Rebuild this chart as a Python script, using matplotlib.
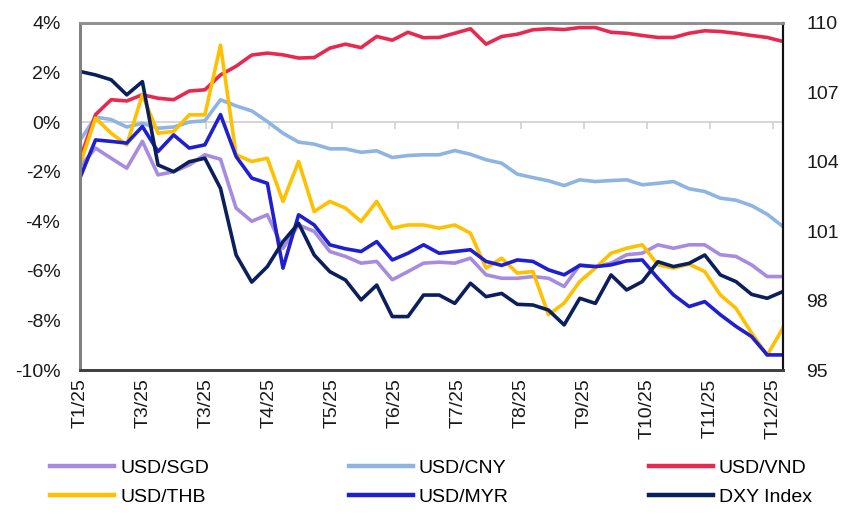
import matplotlib.pyplot as plt
import numpy as np

plt.rcParams['font.family'] = ['Liberation Sans', 'DejaVu Sans']

# nhãn tháng (giữ nguyên như hình gốc)
months = ["T1/25", "T3/25", "T3/25", "T4/25", "T5/25", "T6/25",
          "T7/25", "T8/25", "T9/25", "T10/25", "T11/25", "T12/25"]

# % thay đổi so với đầu năm, lấy mẫu khoảng 1 tuần / điểm
usd_sgd = [-1.8, -1.05, -1.46, -1.86, -0.78, -2.13, -2.0, -1.73, -1.32, -1.5, -3.47, -4.0,
           -3.74, -5.09, -4.15, -4.41, -5.22, -5.42, -5.69, -5.62, -6.36, -6.03, -5.69,
           -5.65, -5.69, -5.49, -6.16, -6.3, -6.3, -6.23, -6.3, -6.63, -5.76, -5.83,
           -5.69, -5.35, -5.29, -4.95, -5.09, -4.95, -4.95, -5.35, -5.42, -5.76, -6.23, -6.23]
usd_cny = [-0.75, 0.2, 0.1, -0.2, -0.05, -0.25, -0.2, 0.0, 0.05, 0.9, 0.65, 0.45,
           0.02, -0.45, -0.81, -0.89, -1.08, -1.08, -1.22, -1.16, -1.43, -1.35, -1.32,
           -1.32, -1.15, -1.3, -1.52, -1.66, -2.1, -2.24, -2.37, -2.56, -2.33, -2.4,
           -2.36, -2.33, -2.53, -2.47, -2.4, -2.69, -2.8, -3.07, -3.15, -3.37, -3.72, -4.21]
usd_vnd = [-1.5, 0.3, 0.9, 0.85, 1.1, 0.96, 0.9, 1.25, 1.3, 1.9, 2.25, 2.7,
           2.78, 2.71, 2.58, 2.6, 2.98, 3.14, 3.0, 3.45, 3.3, 3.62, 3.4,
           3.41, 3.58, 3.76, 3.14, 3.45, 3.54, 3.72, 3.76, 3.73, 3.81, 3.81,
           3.62, 3.58, 3.49, 3.41, 3.41, 3.58, 3.68, 3.65, 3.58, 3.49, 3.41, 3.25]
usd_thb = [-1.73, 0.16, -0.45, -0.92, 1.1, -0.45, -0.38, 0.29, 0.29, 3.1, -1.32, -1.59,
           -1.46, -3.2, -1.59, -3.61, -3.2, -3.47, -4.01, -3.2, -4.28, -4.15, -4.15,
           -4.28, -4.15, -4.48, -5.89, -5.49, -6.09, -6.03, -7.77, -7.3, -6.43, -5.89,
           -5.29, -5.09, -4.95, -5.76, -5.89, -5.73, -6.03, -6.97, -7.51, -8.51, -9.4, -8.31]
usd_myr = [-2.26, -0.72, -0.78, -0.85, -0.18, -1.19, -0.52, -1.05, -0.92, 0.3, -1.39, -2.26,
           -2.47, -5.89, -3.74, -4.15, -4.95, -5.11, -5.22, -4.82, -5.56, -5.29, -4.95,
           -5.29, -5.22, -5.15, -5.62, -5.78, -5.56, -5.62, -5.96, -6.16, -5.78, -5.83,
           -5.76, -5.6, -5.56, -6.3, -6.97, -7.44, -7.24, -7.77, -8.24, -8.65, -9.39, -9.39]
# DXY (trục phải)
dxy = [107.9, 107.75, 107.54, 106.89, 107.46, 103.86, 103.57, 104.0, 104.15, 102.85, 99.97, 98.8,
       99.47, 100.55, 101.34, 99.97, 99.25, 98.89, 98.03, 98.67, 97.31, 97.31, 98.24,
       98.24, 97.88, 98.75, 98.17, 98.31, 97.84, 97.81, 97.59, 96.95, 98.1, 97.88,
       99.11, 98.46, 98.82, 99.68, 99.47, 99.61, 99.97, 99.11, 98.82, 98.27, 98.1, 98.39]

x = np.arange(len(dxy))
pts_per_month = (len(dxy) - 1) / 11.16
tick_pos = np.arange(len(months)) * pts_per_month

fig = plt.figure(figsize=(8.5, 5.19), dpi=100)
ax = fig.add_axes([0.094, 0.287, 0.827, 0.669])
ax2 = ax.twinx()

lw = 2.6
ax.plot(x, usd_cny, color='#8DB4E2', lw=lw, label='USD/CNY')
ax.plot(x, usd_vnd, color='#E8294F', lw=lw, label='USD/VND')
ax.plot(x, usd_sgd, color='#A78BE0', lw=lw, label='USD/SGD')
ax.plot(x, usd_thb, color='#FFC000', lw=lw, label='USD/THB')
ax.plot(x, usd_myr, color='#1F1FD0', lw=lw, label='USD/MYR')
ax2.plot(x, dxy, color='#0A1F5C', lw=lw, label='DXY Index')

# trục hoành ở mức 0%
ax.axhline(0, color='#D0D0D0', lw=1.2, zorder=0)
ax.plot(tick_pos, np.zeros(len(tick_pos)), ls='none', marker=3, ms=5,
        color='#D0D0D0', mew=1.2, zorder=0)

ax.set_xlim(0, len(dxy) - 1)
ax.set_ylim(-10, 4)
ax.set_yticks(np.arange(-10, 5, 2))
ax.set_yticklabels([f'{v}%' for v in range(-10, 5, 2)])
ax2.set_ylim(95, 110)
ax2.set_yticks(np.arange(95, 111, 3))

ax.set_xticks(tick_pos)
ax.set_xticklabels(months, rotation=90)
ax.tick_params(axis='x', length=0, pad=6, labelsize=14, colors='#1a1a1a')
ax.tick_params(axis='y', length=0, pad=14, labelsize=14, colors='#1a1a1a')
ax2.tick_params(axis='y', length=0, pad=17, labelsize=14, colors='#1a1a1a')

for a in (ax, ax2):
    a.spines['left'].set_color('#808080')
    a.spines['left'].set_linewidth(2)
    a.spines['top'].set_color('#909090')
    a.spines['top'].set_linewidth(2)
    a.spines['bottom'].set_color('#404040')
    a.spines['bottom'].set_linewidth(2)
    a.spines['right'].set_color('#111111')
    a.spines['right'].set_linewidth(1.5)

h1, l1 = ax.get_legend_handles_labels()
h2, l2 = ax2.get_legend_handles_labels()
hd = dict(zip(l1 + l2, h1 + h2))
order = ['USD/SGD', 'USD/THB', 'USD/CNY', 'USD/MYR', 'USD/VND', 'DXY Index']
leg = fig.legend([hd[k] for k in order], order, ncol=3, loc='center',
                 bbox_to_anchor=(0.507, 0.07), frameon=False, fontsize=14,
                 handlelength=3.3, handletextpad=0.3, columnspacing=7.2,
                 labelspacing=0.6)
for line in leg.get_lines():
    line.set_linewidth(3.2)

fig.savefig('out.png', dpi=100)
